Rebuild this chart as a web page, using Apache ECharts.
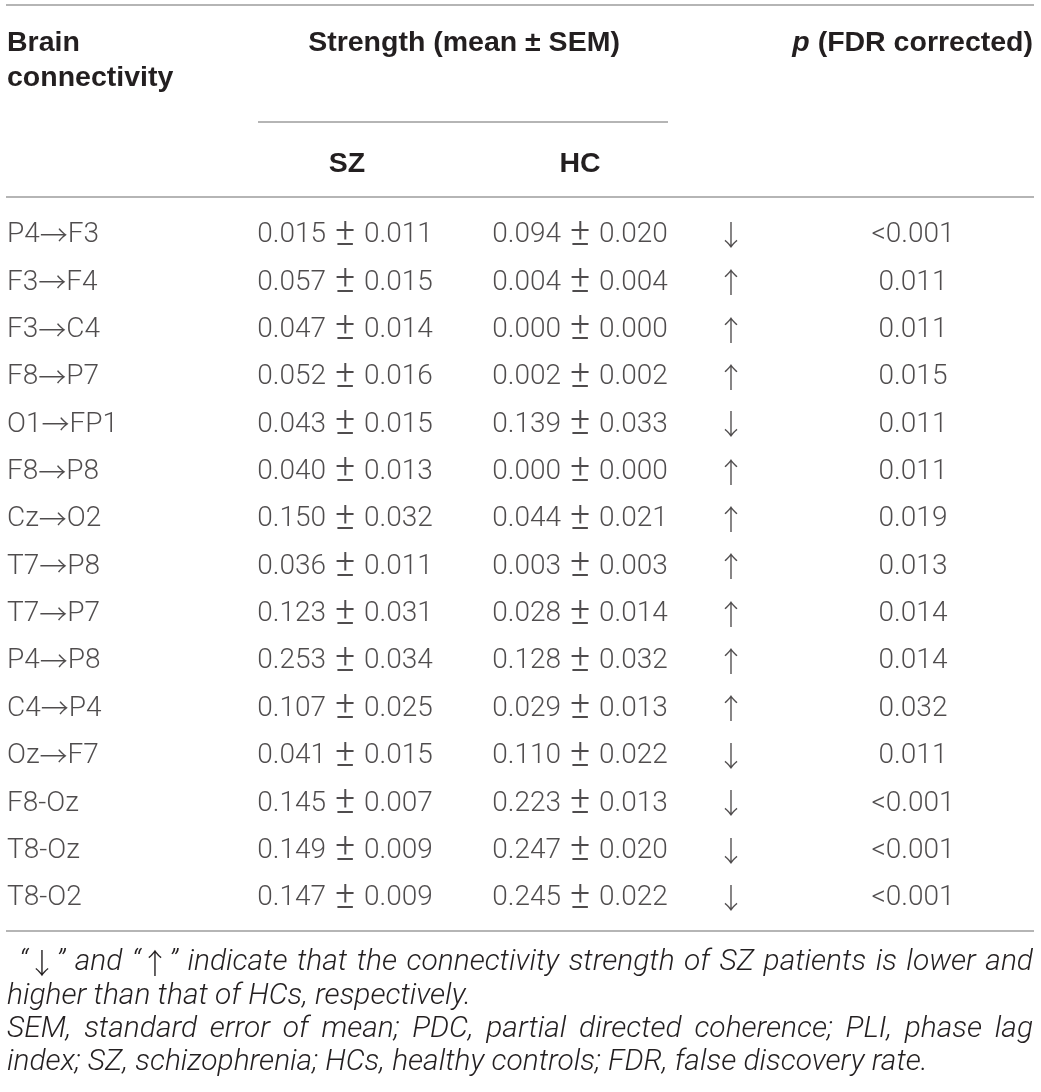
<!DOCTYPE html>
<html>
<head>
<meta charset="utf-8">
<script src="https://cdn.jsdelivr.net/npm/echarts@6.0.0/dist/echarts.min.js"></script>
<style>
  html, body { margin: 0; padding: 0; background: #fff; }
  #main { width: 1041px; height: 1092px; }
</style>
</head>
<body>
<div id="main"></div>
<script>
// table rows
var connections = ["P4→F3", "F3→F4", "F3→C4", "F8→P7", "O1→FP1", "F8→P8", "Cz→O2", "T7→P8",
  "T7→P7", "P4→P8", "C4→P4", "Oz→F7", "F8-Oz", "T8-Oz", "T8-O2"];
var szMean = [0.015, 0.057, 0.047, 0.052, 0.043, 0.040, 0.150, 0.036, 0.123, 0.253, 0.107, 0.041, 0.145, 0.149, 0.147];
var szSem = [0.011, 0.015, 0.014, 0.016, 0.015, 0.013, 0.032, 0.011, 0.031, 0.034, 0.025, 0.015, 0.007, 0.009, 0.009];
var hcMean = [0.094, 0.004, 0.000, 0.002, 0.139, 0.000, 0.044, 0.003, 0.028, 0.128, 0.029, 0.110, 0.223, 0.247, 0.245];
var hcSem = [0.020, 0.004, 0.000, 0.002, 0.033, 0.000, 0.021, 0.003, 0.014, 0.032, 0.013, 0.022, 0.013, 0.020, 0.022];
var direction = ["↓", "↑", "↑", "↑", "↓", "↑", "↑", "↑", "↑", "↑", "↑", "↓", "↓", "↓", "↓"];
var pValue = ["<0.001", "0.011", "0.011", "0.015", "0.011", "0.011", "0.019", "0.013", "0.014", "0.014",
  "0.032", "0.011", "<0.001", "<0.001", "<0.001"];

// footnote, one entry per printed line (true = justified)
var footLines = [
  ["“↓” and “↑” indicate that the connectivity strength of SZ patients is lower and", true],
  ["higher than that of HCs, respectively.", false],
  ["SEM, standard error of mean; PDC, partial directed coherence; PLI, phase lag", true],
  ["index; SZ, schizophrenia; HCs, healthy controls; FDR, false discovery rate.", false]
];

// layout
var W = 1041;
var ROW_TOP = 211.5, ROW_H = 47.36;
var COL = { name: 7, sz: 345, hc: 580, dir: 731, p: 913 };
var INK = "#231f20";
var RULE = "#9d9d9d";
var FONT = "Roboto, 'Liberation Sans', sans-serif";
var BOLD = "'Liberation Sans', Arial, sans-serif";
var ARROW = "'Noto Sans CJK SC', 'Noto Sans CJK JP', sans-serif";
var FS = 28;
var HFS = 28.5;

var myChart = echarts.init(document.getElementById("main"));

function fmt(v) { return v.toFixed(3); }

var rich = {
  ar: { fontFamily: ARROW, fontWeight: 300, fontSize: 28, color: INK },
  pm: { fontFamily: FONT, fontWeight: 300, fontSize: 38, color: INK, padding: [0, 2] },
  t: { fontFamily: FONT, fontWeight: 300, fontSize: FS, color: INK }
};

function markup(t) {
  return t.split(/(→|±|↑|↓)/).filter(function (s) { return s !== ""; }).map(function (s) {
    if (s === "→" || s === "↑" || s === "↓") return "{ar|" + s + "}";
    if (s === "±") return "{pm|±}";
    return "{t|" + s + "}";
  }).join("");
}

function column(x, texts, align) {
  return {
    type: "scatter",
    symbolSize: 1,
    itemStyle: { color: "rgba(0,0,0,0)" },
    silent: true,
    data: texts.map(function (t, i) { return { value: [x, connections[i]], txt: markup(t) }; }),
    label: {
      show: true,
      position: "inside",
      align: align,
      verticalAlign: "middle",
      fontFamily: FONT,
      fontWeight: 300,
      fontSize: FS,
      color: INK,
      rich: rich,
      formatter: function (p) { return p.data.txt; }
    }
  };
}

var szText = szMean.map(function (m, i) { return fmt(m) + " ± " + fmt(szSem[i]); });
var hcText = hcMean.map(function (m, i) { return fmt(m) + " ± " + fmt(hcSem[i]); });

// footnote: fit the font so the last line ends near x = 928, then justify full lines
var ctx = document.createElement("canvas").getContext("2d");
function fnFont(size) { return "italic 300 " + size + "px " + FONT; }
ctx.font = fnFont(26);
var FN_SIZE = 26 * (928 - 7) / ctx.measureText(footLines[3][0]).width;
FN_SIZE = Math.max(22, Math.min(30, FN_SIZE));
var FN_AR = "300 " + (FN_SIZE * 0.95) + "px " + ARROW;

function parts(w) {
  return w.split(/(↑|↓)/).filter(function (s) { return s !== ""; });
}
function wordWidth(w) {
  return parts(w).reduce(function (acc, s) {
    ctx.font = (s === "↑" || s === "↓") ? FN_AR : fnFont(FN_SIZE);
    return acc + ctx.measureText(s).width;
  }, 0);
}
var fnRich = {
  t: { font: fnFont(FN_SIZE), fill: INK },
  a: { font: FN_AR, fill: INK }
};

function footLine(text, justify, x0, x1, y) {
  var words = text.split(" ");
  var widths = words.map(wordWidth);
  var total = widths.reduce(function (a, b) { return a + b; }, 0);
  ctx.font = fnFont(FN_SIZE);
  var gap = justify ? (x1 - x0 - total) / (words.length - 1) : ctx.measureText(" ").width;
  var out = [], x = x0;
  words.forEach(function (w, i) {
    var txt = parts(w).map(function (s) {
      return (s === "↑" || s === "↓") ? "{a|" + s + "}" : "{t|" + s + "}";
    }).join("");
    out.push({
      type: "text", x: x, y: y, silent: true,
      style: { text: txt, rich: fnRich, fill: INK, font: fnFont(FN_SIZE), verticalAlign: "middle", align: "left" }
    });
    x += widths[i] + gap;
  });
  return out;
}

var footEls = [];
footLines.forEach(function (ln, i) {
  var x0 = i === 0 ? 19 : 7;
  footEls = footEls.concat(footLine(ln[0], ln[1], x0, 1033, 963 + i * 33.3));
});

function rule(x1, x2, y) {
  return { type: "line", silent: true, shape: { x1: x1, y1: y, x2: x2, y2: y }, style: { stroke: RULE, lineWidth: 1.5 } };
}

function head(text, x, y, align) {
  return {
    type: "text", x: x, y: y, silent: true,
    style: {
      text: text, fill: INK, fontFamily: BOLD, fontWeight: "bold", fontSize: HFS,
      align: align, verticalAlign: "middle",
      rich: {
        i: { fontFamily: BOLD, fontWeight: "bold", fontStyle: "italic", fontSize: HFS, fill: INK }
      }
    }
  };
}

var option = {
  backgroundColor: "#fff",
  animation: false,
  grid: { left: 0, right: 0, top: ROW_TOP, height: ROW_H * connections.length },
  xAxis: { type: "value", min: 0, max: W, show: false },
  yAxis: { type: "category", data: connections, inverse: true, show: false },
  series: [
    column(COL.name, connections, "left"),
    column(COL.sz, szText, "center"),
    column(COL.hc, hcText, "center"),
    column(COL.dir, direction, "center"),
    column(COL.p, pValue, "center")
  ],
  graphic: [
    rule(6, 1034, 5),
    rule(258, 668, 122),
    rule(6, 1034, 197),
    rule(6, 1034, 931),
    head("Brain", 7, 43, "left"),
    head("connectivity", 7, 78, "left"),
    head("Strength (mean ± SEM)", 464, 43, "center"),
    head("{i|p} (FDR corrected)", 1033, 43, "right"),
    head("SZ", 347, 164, "center"),
    head("HC", 580, 164, "center")
  ].concat(footEls)
};

myChart.setOption(option);
</script>
</body>
</html>
